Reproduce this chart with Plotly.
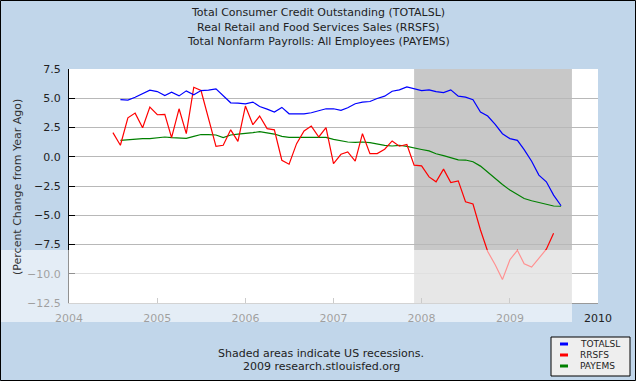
import plotly.graph_objects as go
import pandas as pd

# ---- data (percent change from year ago, monthly) ----
rrsfs_start = "2004-07-01"
rrsfs = [2.06, 0.98, 3.33, 3.73, 2.48, 4.24,
         3.59, 3.62, 1.63, 4.10, 1.97, 5.94, 5.66, 3.25, 0.89, 0.98, 2.30, 1.32,
         4.33, 2.74, 3.48, 2.40, 2.30, -0.30, -0.64, 1.12, 2.20, 2.62, 1.69, 2.48,
         -0.58, 0.21, 0.41, -0.38, 1.97, 0.27, 0.27, 0.64, 1.35, 0.90, 1.05, -0.72,
         -0.78, -1.72, -2.14, -1.06, -2.20, -2.06, -3.85, -4.04, -6.26, -8.10, -9.23, -10.50,
         -8.80, -8.00, -9.15, -9.43, -8.72, -7.90, -6.54]

totalsl_start = "2004-08-01"
totalsl = [4.89, 4.84, 5.09, 5.40, 5.69,
           5.57, 5.23, 5.52, 5.20, 5.63, 5.29, 5.66, 5.69, 5.80, 5.17, 4.61, 4.58,
           4.52, 4.67, 4.30, 4.07, 3.82, 4.22, 3.67, 3.67, 3.67, 3.76, 3.96, 4.10,
           4.10, 3.96, 4.19, 4.53, 4.67, 4.72, 4.98, 5.18, 5.60, 5.72, 5.97, 5.82,
           5.66, 5.72, 5.57, 5.49, 5.72, 5.18, 5.09, 4.87, 3.82, 3.48, 2.77, 1.97,
           1.55, 1.40, 0.61, -0.38, -1.57, -2.14, -3.28, -4.19]

payems_start = "2004-08-01"
payems = [1.40, 1.46, 1.52, 1.55, 1.55,
          1.60, 1.69, 1.63, 1.63, 1.57, 1.74, 1.90, 1.89, 1.86, 1.63, 1.86, 1.94,
          1.97, 2.06, 2.14, 2.06, 1.94, 1.74, 1.66, 1.66, 1.66, 1.63, 1.60, 1.66,
          1.49, 1.38, 1.26, 1.23, 1.26, 1.20, 1.06, 0.98, 0.92, 0.98, 0.88, 0.78,
          0.62, 0.50, 0.26, 0.09, -0.09, -0.26, -0.28, -0.43, -0.80, -1.32, -1.89, -2.37,
          -2.85, -3.25, -3.57, -3.76, -3.93, -4.07, -4.21, -4.23]

series_names = ["TOTALSL", "RRSFS", "PAYEMS"]
series_colors = ["#0000FF", "#FF0000", "#008000"]
title_lines = ["Total Consumer Credit Outstanding (TOTALSL)",
               "Real Retail and Food Services Sales (RRSFS)",
               "Total Nonfarm Payrolls: All Employees (PAYEMS)"]
footer_lines = ["Shaded areas indicate US recessions.",
                "2009 research.stlouisfed.org"]
recession = ("2007-12-01", "2009-09-15")
y_ticks = [7.5, 5.0, 2.5, 0.0, -2.5, -5.0, -7.5, -10.0, -12.5]

# ---- figure ----
W, H = 636, 381
L, R, T, B = 69, 38, 69, 78
pw, ph = W - L - R, H - T - B


def px(xp):
    return (xp - L) / pw


def py(yp):
    return (H - B - yp) / ph


FONT = "DejaVu Sans"
BG = "#C1D6EA"

fig = go.Figure()
data = {
    "TOTALSL": (totalsl_start, totalsl),
    "RRSFS": (rrsfs_start, rrsfs),
    "PAYEMS": (payems_start, payems),
}
for name, color in zip(["PAYEMS", "RRSFS", "TOTALSL"], ["#008000", "#FF0000", "#0000FF"]):
    start, vals = data[name]
    dates = pd.date_range(start, periods=len(vals), freq="MS")
    fig.add_trace(go.Scatter(x=dates, y=vals, mode="lines", name=name,
                             line=dict(color=color, width=1.2), showlegend=False))

shapes = []
# recession shading
shapes.append(dict(type="rect", xref="x", yref="paper", x0=recession[0], x1=recession[1],
                   y0=0, y1=1, fillcolor="#C8C8C8", line=dict(width=0), layer="between"))
# watermark band (lightening overlay)
shapes.append(dict(type="rect", xref="paper", yref="paper", x0=px(0), x1=px(572),
                   y0=py(322), y1=py(250), fillcolor="rgba(255,255,255,0.57)",
                   line=dict(width=0), layer="above"))
# outer border
shapes.append(dict(type="rect", xref="paper", yref="paper", x0=px(0.5), x1=px(635.5),
                   y0=py(380.5), y1=py(0.5), line=dict(color="#000000", width=1),
                   fillcolor="rgba(0,0,0,0)", layer="above"))
# legend box
shapes.append(dict(type="rect", xref="paper", yref="paper", x0=px(551), x1=px(630),
                   y0=py(376), y1=py(337), fillcolor="#EEEEEE",
                   line=dict(color="#000000", width=1), layer="above"))

annotations = []
for i, t in enumerate(title_lines):
    annotations.append(dict(text=t, xref="paper", yref="paper", x=px(318), y=py(13 + 14.5 * i),
                            xanchor="center", yanchor="middle", showarrow=False,
                            font=dict(family=FONT, size=11, color="#222222")))
for i, t in enumerate(footer_lines):
    annotations.append(dict(text=t, xref="paper", yref="paper", x=px(321), y=py(353 + 13 * i),
                            xanchor="center", yanchor="middle", showarrow=False,
                            font=dict(family=FONT, size=11, color="#222222")))
annotations.append(dict(text="(Percent Change from Year Ago)", xref="paper", yref="paper",
                        x=px(17), y=py(187), textangle=-90, xanchor="center", yanchor="middle",
                        showarrow=False, font=dict(family=FONT, size=11, color="#333333")))
for i, (n, c) in enumerate(zip(series_names, series_colors)):
    yy = 344 + 11 * i
    shapes.append(dict(type="line", xref="paper", yref="paper", x0=px(560), x1=px(568),
                       y0=py(yy), y1=py(yy), line=dict(color=c, width=3), layer="above"))
    annotations.append(dict(text=n, xref="paper", yref="paper", x=px(578), y=py(yy),
                            xanchor="left", yanchor="middle", showarrow=False,
                            font=dict(family=FONT, size=9, color="#222222")))

fig.update_layout(
    width=W, height=H,
    margin=dict(l=L, r=R, t=T, b=B, pad=0),
    paper_bgcolor=BG, plot_bgcolor="#FFFFFF",
    shapes=shapes, annotations=annotations, showlegend=False,
    font=dict(family=FONT, size=11, color="#222222"),
)
fig.update_xaxes(
    type="date", range=["2004-01-01", "2010-01-01"],
    tick0="2004-01-01", dtick="M12", tickformat="%Y",
    ticks="inside", ticklen=5, tickcolor="#888888",
    showgrid=False, showline=True, linecolor="#999999", linewidth=1,
    tickfont=dict(family=FONT, size=11, color="#222222"),
    ticklabelstandoff=5,
)
fig.update_yaxes(
    range=[-12.5, 7.5], tickvals=y_ticks, tickformat=".1f",
    ticks="inside", ticklen=6, tickcolor="#000000",
    showgrid=True, gridcolor="#B8B8B8", gridwidth=1, zeroline=False,
    showline=True, linecolor="#000000", linewidth=1,
    tickfont=dict(family=FONT, size=11, color="#222222"),
    ticklabelstandoff=5,
)

fig.write_html("out.html", config={"displayModeBar": False},
               post_script="document.body.style.margin='0';document.body.style.overflow='hidden';")
